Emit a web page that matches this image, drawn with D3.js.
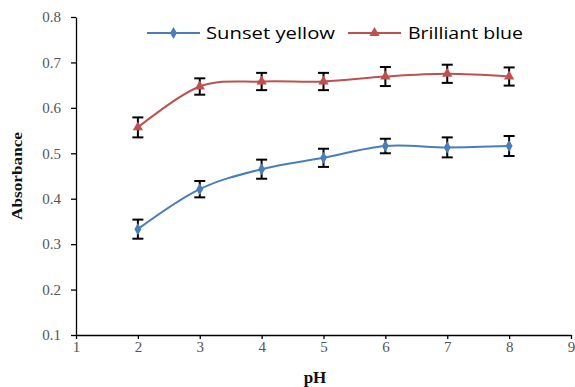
<!DOCTYPE html>
<html>
<head>
<meta charset="utf-8">
<script src="https://cdn.jsdelivr.net/npm/d3@7"></script>
<style>
  body { margin: 0; background: #fff; }
  svg { display: block; }
  .tick text { font-family: 'Liberation Serif', 'Times New Roman', serif; font-size: 15px; }
</style>
</head>
<body>
<svg id="chart" width="575" height="387"></svg>
<script>
// data
const pH = [2, 3, 4, 5, 6, 7, 8];
const sunsetYellow = [0.333, 0.421, 0.465, 0.490, 0.516, 0.513, 0.516];
const sunsetErr = [0.021, 0.018, 0.021, 0.020, 0.016, 0.022, 0.022];
const brilliantBlue = [0.557, 0.647, 0.658, 0.658, 0.669, 0.675, 0.669];
const brilliantErr = [0.022, 0.018, 0.019, 0.019, 0.021, 0.020, 0.020];
const xTicks = [1, 2, 3, 4, 5, 6, 7, 8, 9];
const yTicks = [0.1, 0.2, 0.3, 0.4, 0.5, 0.6, 0.7, 0.8];

const svg = d3.select("#chart");

const plot = { left: 76, right: 571, top: 17, bottom: 335 };

const x = d3.scaleLinear().domain([1, 9]).range([plot.left, plot.right]);
const y = d3.scaleLinear().domain([0.1, 0.8]).range([plot.bottom, plot.top]);

const serif = "'Liberation Serif', 'Times New Roman', serif";

// axes
const yAxis = svg.append("g")
    .attr("transform", `translate(${plot.left},0)`)
    .call(d3.axisLeft(y).tickValues(yTicks).tickFormat(d3.format(".1f")).tickSize(5).tickSizeOuter(0));
const xAxis = svg.append("g")
    .attr("transform", `translate(0,${plot.bottom})`)
    .call(d3.axisBottom(x).tickValues(xTicks).tickFormat(d3.format("d")).tickSize(4).tickSizeOuter(0));

[yAxis, xAxis].forEach(g => {
    g.attr("font-family", serif).attr("font-size", 15);
    g.select(".domain").attr("stroke", "#000").attr("stroke-width", 1.3);
    g.selectAll(".tick line").attr("stroke", "#000").attr("stroke-width", 1.3);
    g.selectAll(".tick text")
        .attr("fill", "#555")
        .attr("font-family", serif)
        .attr("font-size", 15);
});
yAxis.selectAll(".tick text").attr("x", -15);
xAxis.selectAll(".tick text").attr("y", 6);

// axis titles
svg.append("text")
    .attr("transform", `translate(22,176) rotate(-90)`)
    .attr("text-anchor", "middle")
    .style("font-family", serif)
    .style("font-size", "15px")
    .style("font-weight", "bold")
    .attr("textLength", 88)
    .attr("lengthAdjust", "spacingAndGlyphs")
    .attr("fill", "#111")
    .text("Absorbance");

svg.append("text")
    .attr("x", 315)
    .attr("y", 383)
    .attr("text-anchor", "middle")
    .style("font-family", serif)
    .style("font-size", "17px")
    .style("font-weight", "bold")
    .attr("fill", "#111")
    .text("pH");

const series = [
    { name: "Sunset yellow", values: sunsetYellow, err: sunsetErr, color: "#4a7ebb", marker: d3.symbolDiamond, size: 42, tlen: 129 },
    { name: "Brilliant blue", values: brilliantBlue, err: brilliantErr, color: "#c0504d", marker: d3.symbolTriangle, size: 46, tlen: 115 }
];

const line = d3.line()
    .x(d => x(d[0]))
    .y(d => y(d[1]))
    .curve(d3.curveCatmullRom.alpha(0));

series.forEach(s => {
    const pts = pH.map((p, i) => [p, s.values[i], s.err[i]]);

    svg.append("path")
        .datum(pts)
        .attr("fill", "none")
        .attr("stroke", s.color)
        .attr("stroke-width", 2)
        .attr("d", line);

    // error bars
    const eb = svg.append("g").attr("stroke", "#000").attr("stroke-width", 2);
    pts.forEach(d => {
        const cx = x(d[0]);
        const y1 = y(d[1] + d[2]), y2 = y(d[1] - d[2]);
        eb.append("line").attr("x1", cx).attr("x2", cx).attr("y1", y1).attr("y2", y2);
        eb.append("line").attr("x1", cx - 5.5).attr("x2", cx + 5.5).attr("y1", y1).attr("y2", y1);
        eb.append("line").attr("x1", cx - 5.5).attr("x2", cx + 5.5).attr("y1", y2).attr("y2", y2);
    });

    svg.append("g").selectAll("path")
        .data(pts)
        .join("path")
        .attr("transform", d => `translate(${x(d[0])},${y(d[1])})`)
        .attr("d", d3.symbol(s.marker, s.size))
        .attr("fill", s.color);
});

// legend
const legendPos = [{ x1: 147, tx: 206 }, { x1: 348, tx: 408 }];
series.forEach((s, i) => {
    const lp = legendPos[i];
    const ly = 33;
    svg.append("line")
        .attr("x1", lp.x1).attr("x2", lp.x1 + 53)
        .attr("y1", ly).attr("y2", ly)
        .attr("stroke", s.color).attr("stroke-width", 2);
    svg.append("path")
        .attr("transform", `translate(${lp.x1 + 26.5},${ly})`)
        .attr("d", d3.symbol(s.marker, s.size))
        .attr("fill", s.color);
    svg.append("text")
        .attr("x", lp.tx)
        .attr("y", ly + 6)
        .style("font-family", "'Open Sans', 'Noto Sans', sans-serif")
        .style("font-size", "17px")
        .attr("textLength", s.tlen)
        .attr("lengthAdjust", "spacingAndGlyphs")
        .attr("fill", "#000")
        .text(s.name);
});
</script>
</body>
</html>
